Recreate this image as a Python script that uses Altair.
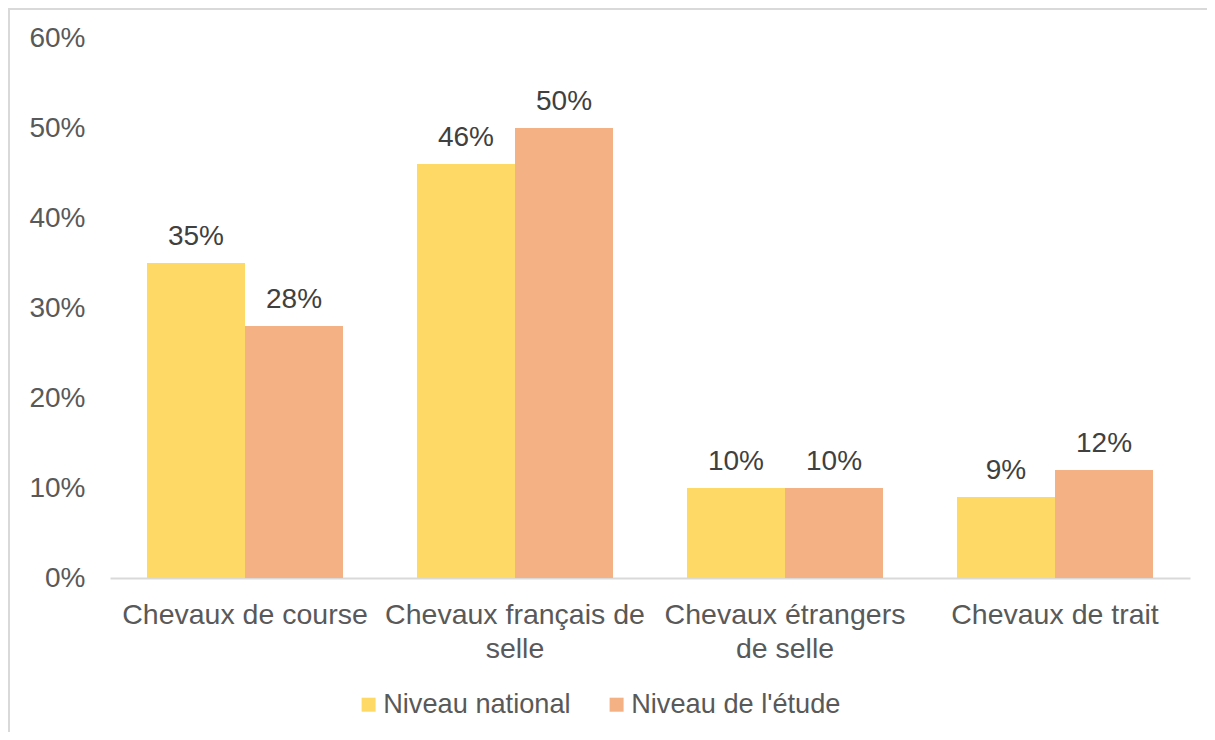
import altair as alt
import pandas as pd

categories = ["Chevaux de course", "Chevaux français de\nselle", "Chevaux étrangers\nde selle", "Chevaux de trait"]
series = ["Niveau national", "Niveau de l'étude"]
national = [35, 46, 10, 9]
etude = [28, 50, 10, 12]
colors = ["#FFD966", "#F4B183"]
y_ticks = [0, 10, 20, 30, 40, 50, 60]

rows = []
for c, a, b in zip(categories, national, etude):
    rows.append({"cat": c, "series": series[0], "value": a})
    rows.append({"cat": c, "series": series[1], "value": b})
df = pd.DataFrame(rows)

W, H = 1199, 724
FONT = "Liberation Sans"
Y0, Y60 = 570, 30

x_enc = alt.X(
    "cat:N", sort=categories,
    scale=alt.Scale(range=[102, 1182], paddingInner=0.274, paddingOuter=0.137),
    axis=alt.Axis(title=None, labelExpr="split(datum.value, '\\n')", labelAngle=0,
                  labelFont=FONT, labelFontSize=28.5, labelColor="#595959",
                  labelLineHeight=34, labelPadding=22, labelLimit=0, labelOverlap=False,
                  labelBaseline="top",
                  ticks=False, tickSize=0, domainColor="#d9d9d9", domainWidth=2,
                  offset=Y0 - H, grid=False),
)
xo_enc = alt.XOffset("series:N", sort=series, scale=alt.Scale(paddingInner=0, paddingOuter=0))
y_enc = alt.Y(
    "value:Q",
    scale=alt.Scale(domain=[0, 60], range=[Y0, Y60], nice=False),
    axis=alt.Axis(title=None, values=y_ticks, labelExpr="datum.value + '%'",
                  labelFont=FONT, labelFontSize=28, labelColor="#595959",
                  labelPadding=0, ticks=False, tickSize=0, domain=False, grid=False,
                  offset=-77),
)

bars = alt.Chart(df).mark_bar().encode(
    x=x_enc, xOffset=xo_enc, y=y_enc,
    color=alt.Color("series:N", sort=series,
                    scale=alt.Scale(domain=series, range=colors),
                    legend=alt.Legend(title=None, orient="none", legendX=347, legendY=683,
                                      direction="horizontal", symbolType="square",
                                      symbolSize=196, symbolStrokeWidth=0,
                                      labelFont=FONT, labelFontSize=27.2, labelColor="#595959",
                                      labelOffset=1, columnPadding=32, padding=0,
                                      labelLimit=0)),
)

labels = alt.Chart(df).transform_calculate(lbl="datum.value + '%'").mark_text(
    baseline="alphabetic", dy=-18, font=FONT, fontSize=28, color="#404040"
).encode(
    x=alt.X("cat:N", sort=categories), xOffset=alt.XOffset("series:N", sort=series),
    y=alt.Y("value:Q"),
    text="lbl:N",
)

border_data = alt.Data(values=[{"a": 0}])
left_border = alt.Chart(border_data).mark_rule(color="#d9d9d9", strokeWidth=2).encode(
    x=alt.value(1), y=alt.value(0), y2=alt.value(H))
top_border = alt.Chart(border_data).mark_rule(color="#d9d9d9", strokeWidth=2).encode(
    x=alt.value(0), x2=alt.value(W), y=alt.value(1))

chart = alt.layer(bars, labels, left_border, top_border).properties(
    width=W, height=H, autosize=alt.AutoSizeParams(type="none"), padding=0,
    background="white",
).configure_view(stroke=None)

chart.save("out.html", embed_options={"renderer": "svg", "actions": False})
